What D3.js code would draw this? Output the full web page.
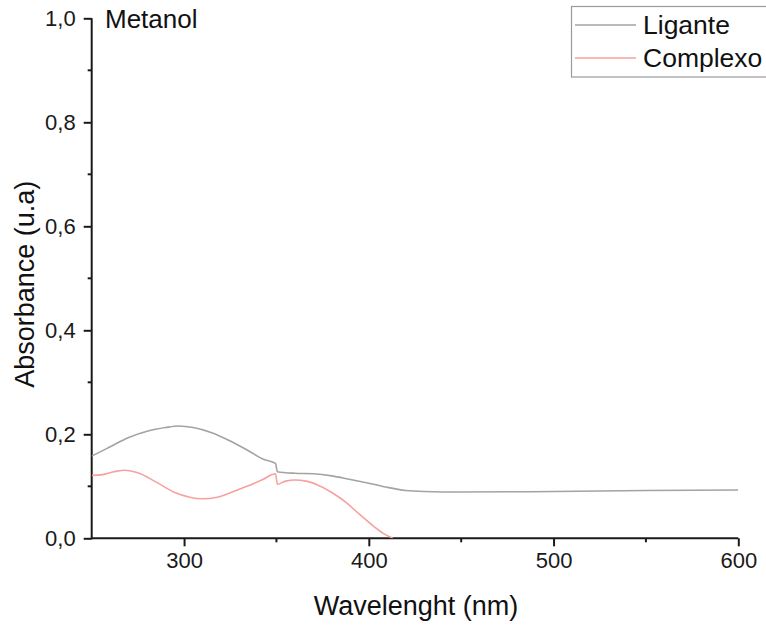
<!DOCTYPE html>
<html>
<head>
<meta charset="utf-8">
<script src="https://cdn.jsdelivr.net/npm/d3@7"></script>
<style>
  body { margin: 0; background: #fff; }
  svg { display: block; font-family: "Liberation Sans", Arial, sans-serif; }
</style>
</head>
<body>
<svg id="chart" width="766" height="633"></svg>
<script>
// Ligante spectrum (wavelength nm, absorbance)
const ligWave = [250, 260, 270, 280, 290, 297, 305, 315, 325, 335, 343, 349.5, 350.5, 360, 370, 380, 390, 400, 410, 420, 430, 450, 500, 550, 600];
const ligAbs  = [0.158, 0.176, 0.194, 0.206, 0.213, 0.216, 0.213, 0.203, 0.187, 0.168, 0.152, 0.144, 0.128, 0.125, 0.124, 0.120, 0.113, 0.106, 0.098, 0.092, 0.090, 0.089, 0.090, 0.092, 0.093];

// Complexo spectrum
const compWave = [250, 255, 262, 268, 275, 285, 295, 303, 310, 318, 326, 334, 342, 349.5, 350.5, 355, 360, 366, 372, 380, 388, 395, 402, 408, 413];
const compAbs  = [0.121, 0.122, 0.128, 0.131, 0.126, 0.108, 0.088, 0.079, 0.076, 0.079, 0.089, 0.100, 0.112, 0.124, 0.104, 0.110, 0.112, 0.110, 0.103, 0.088, 0.068, 0.046, 0.025, 0.009, 0.0];

const xTicks = [300, 400, 500, 600];
const xMinor = [350, 450, 550];
const yTicks = [0, 0.2, 0.4, 0.6, 0.8, 1.0];
const yMinor = [0.1, 0.3, 0.5, 0.7, 0.9];

const seriesNames = ["Ligante", "Complexo"];
const seriesColors = ["#a3a3a3", "#f7a0a0"];

const svg = d3.select("#chart");
const fmt = d => d3.format(".1f")(d).replace(".", ",");

const x = d3.scaleLinear().domain([250, 600]).range([91.7, 738.3]);
const y = d3.scaleLinear().domain([0, 1]).range([538.3, 18.3]);

// --- axes ---
const xAxis = svg.append("g").attr("transform", `translate(0,${y(0)})`)
    .call(d3.axisBottom(x).tickValues(xTicks).tickSize(8).tickPadding(6).tickFormat(d3.format("d")));
xAxis.append("g").call(g => g.selectAll("line.minor").data(xMinor).enter().append("line")
    .attr("class", "minor").attr("x1", x).attr("x2", x).attr("y1", 0).attr("y2", 4));

const yAxis = svg.append("g").attr("transform", `translate(${x(250)},0)`)
    .call(d3.axisLeft(y).tickValues(yTicks).tickSize(8).tickPadding(8).tickFormat(fmt));
yAxis.append("g").call(g => g.selectAll("line.minor").data(yMinor).enter().append("line")
    .attr("class", "minor").attr("y1", y).attr("y2", y).attr("x1", 0).attr("x2", -4));

svg.selectAll(".domain").attr("stroke", "#1a1a1a").attr("stroke-width", 2)
svg.selectAll(".tick line, line.minor").attr("stroke", "#1a1a1a").attr("stroke-width", 2);
svg.selectAll(".tick text").attr("font-size", 22).attr("fill", "#1a1a1a")
    .attr("font-family", "'Liberation Sans', Arial, sans-serif");
// no outer ticks on the domain paths
xAxis.select(".domain").attr("d", `M${x(250)},0H${x(600)}`);
yAxis.select(".domain").attr("d", `M0,${y(1)}V${y(0) + 1}`);

// --- lines ---
svg.append("clipPath").attr("id", "clip").append("rect")
    .attr("x", x(250)).attr("y", y(1)).attr("width", x(600) - x(250)).attr("height", y(0) - y(1));

const line = d3.line().x(d => x(d[0])).y(d => y(d[1])).curve(d3.curveMonotoneX);
const series = [d3.zip(ligWave, ligAbs), d3.zip(compWave, compAbs)];

svg.append("g").attr("clip-path", "url(#clip)")
  .selectAll("path").data(series).enter().append("path")
    .attr("d", line)
    .attr("fill", "none")
    .attr("stroke", (d, i) => seriesColors[i])
    .attr("stroke-width", 1.6);

// --- labels ---
svg.append("text").attr("x", 105).attr("y", 28).attr("font-size", 26).attr("fill", "#111").text("Metanol");

svg.append("text").attr("x", (x(250) + x(600)) / 2 + 1).attr("y", 615)
    .attr("text-anchor", "middle").attr("font-size", 27).attr("fill", "#111").text("Wavelenght (nm)");

svg.append("text").attr("transform", `translate(34,${y(0.5) + 6}) rotate(-90)`)
    .attr("text-anchor", "middle").attr("font-size", 27).attr("fill", "#111").text("Absorbance (u.a)");

// --- legend ---
const legend = svg.append("g");
legend.append("rect").attr("x", 571.5).attr("y", 6.5).attr("width", 230).attr("height", 70.5)
    .attr("fill", "#fff").attr("stroke", "#9a9a9a").attr("stroke-width", 1.2);
const items = legend.selectAll("g.item").data(seriesNames).enter().append("g")
    .attr("transform", (d, i) => `translate(0,${25 + i * 33})`);
items.append("line").attr("x1", 575).attr("x2", 636).attr("y1", 0).attr("y2", 0)
    .attr("stroke", (d, i) => seriesColors[i]).attr("stroke-width", 1.6);
items.append("text").attr("x", 643).attr("y", 9).attr("font-size", 26.5).attr("fill", "#111").text(d => d);
</script>
</body>
</html>
